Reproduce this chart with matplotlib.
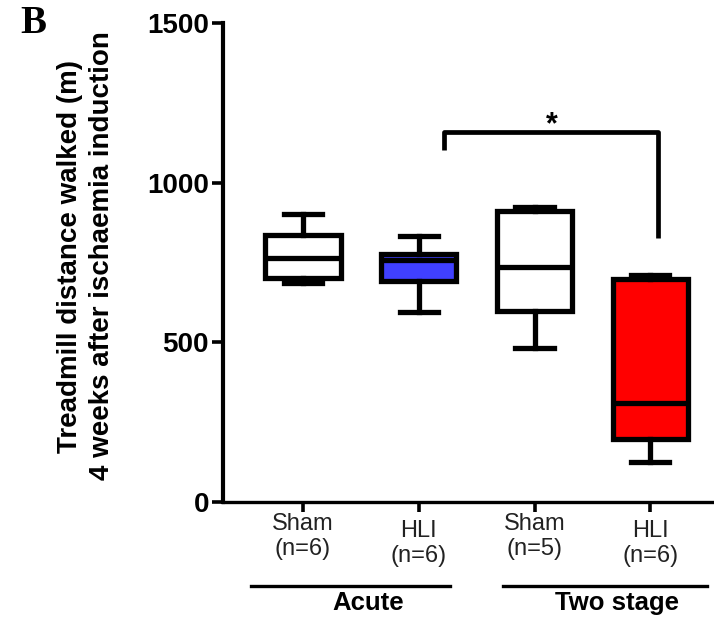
import matplotlib
matplotlib.use('agg')
import matplotlib.pyplot as plt

# box stats (min, Q1, median, Q3, max)
groups = ['Sham\n(n=6)', 'HLI\n(n=6)', 'Sham\n(n=5)', 'HLI\n(n=6)']
mins = [686, 596, 483, 126]
q1s = [701, 693, 599, 197]
medians = [764, 758, 736, 311]
q3s = [836, 776, 912, 699]
maxs = [901, 833, 925, 711]
colors = ['white', '#4040ff', 'white', '#ff0000']
yticks = [0, 500, 1000, 1500]

# significance bracket: left end, top, right end
sig_left = 1102
sig_top = 1159
sig_right = 827

plt.rcParams['font.family'] = ['Liberation Sans', 'DejaVu Sans']

fig = plt.figure(figsize=(7.14, 6.17), dpi=100)
ax = fig.add_axes([0.3123, 0.1864, 0.6877, 0.7763])

stats = []
for i in range(len(groups)):
    stats.append({'whislo': mins[i], 'q1': q1s[i], 'med': medians[i],
                  'q3': q3s[i], 'whishi': maxs[i], 'fliers': []})

lw = 3.8
bp = ax.bxp(stats, positions=[1, 2, 3, 4], widths=0.65, patch_artist=True,
            showfliers=False,
            boxprops=dict(linewidth=lw, edgecolor='black'),
            whiskerprops=dict(linewidth=lw, color='black'),
            capprops=dict(linewidth=lw, color='black'),
            medianprops=dict(linewidth=lw, color='black'),
            capwidths=0.33)
for patch, c in zip(bp['boxes'], colors):
    patch.set_facecolor(c)

ax.set_ylim(0, 1500)
ax.set_xlim(0.31, 4.55)
ax.set_yticks(yticks)
ax.set_yticklabels([str(t) for t in yticks], fontsize=20, fontweight='bold')
ax.set_xticks([1, 2, 3, 4])
ax.set_xticklabels([])
ax.tick_params(axis='both', width=2.6, length=7, direction='out')
ax.tick_params(axis='y', pad=2, length=8)
for s in ['top', 'right']:
    ax.spines[s].set_visible(False)
ax.spines['left'].set_linewidth(3)
ax.spines['bottom'].set_linewidth(2.4)

# category labels (HLI ones sit a bit lower)
for i, g in enumerate(groups):
    off = -0.022 if 'Sham' in g else -0.037
    ax.text(i + 1, off, g, transform=ax.get_xaxis_transform(), ha='center',
            va='top', fontsize=17, color='#222222', linespacing=1.2)

# group lines and labels
ax.plot([0.55, 2.27], [-0.175, -0.175], transform=ax.get_xaxis_transform(),
        color='black', lw=2.4, clip_on=False)
ax.plot([2.73, 4.49], [-0.175, -0.175], transform=ax.get_xaxis_transform(),
        color='black', lw=2.4, clip_on=False)
ax.text(1.56, -0.185, 'Acute', transform=ax.get_xaxis_transform(),
        ha='center', va='top', fontsize=18.5, fontweight='bold')
ax.text(3.71, -0.185, 'Two stage', transform=ax.get_xaxis_transform(),
        ha='center', va='top', fontsize=18.5, fontweight='bold')

# significance bracket
ax.plot([2.22, 2.22, 4.07, 4.07], [sig_left, sig_top, sig_top, sig_right],
        color='black', lw=3.4, clip_on=False, solid_capstyle='butt')
ax.text(3.15, 1180, '*', ha='center', va='center', fontsize=22,
        fontweight='bold')

fig.text(0.1205, 0.585, 'Treadmill distance walked (m)\n4 weeks after ischaemia induction',
         rotation=90, ha='center', va='center', fontsize=20, fontweight='bold',
         linespacing=1.3)
fig.text(0.028, 0.962, 'B', family='Liberation Serif', fontsize=28,
         fontweight='bold', ha='left', va='center')

fig.savefig('out.png', dpi=100)
